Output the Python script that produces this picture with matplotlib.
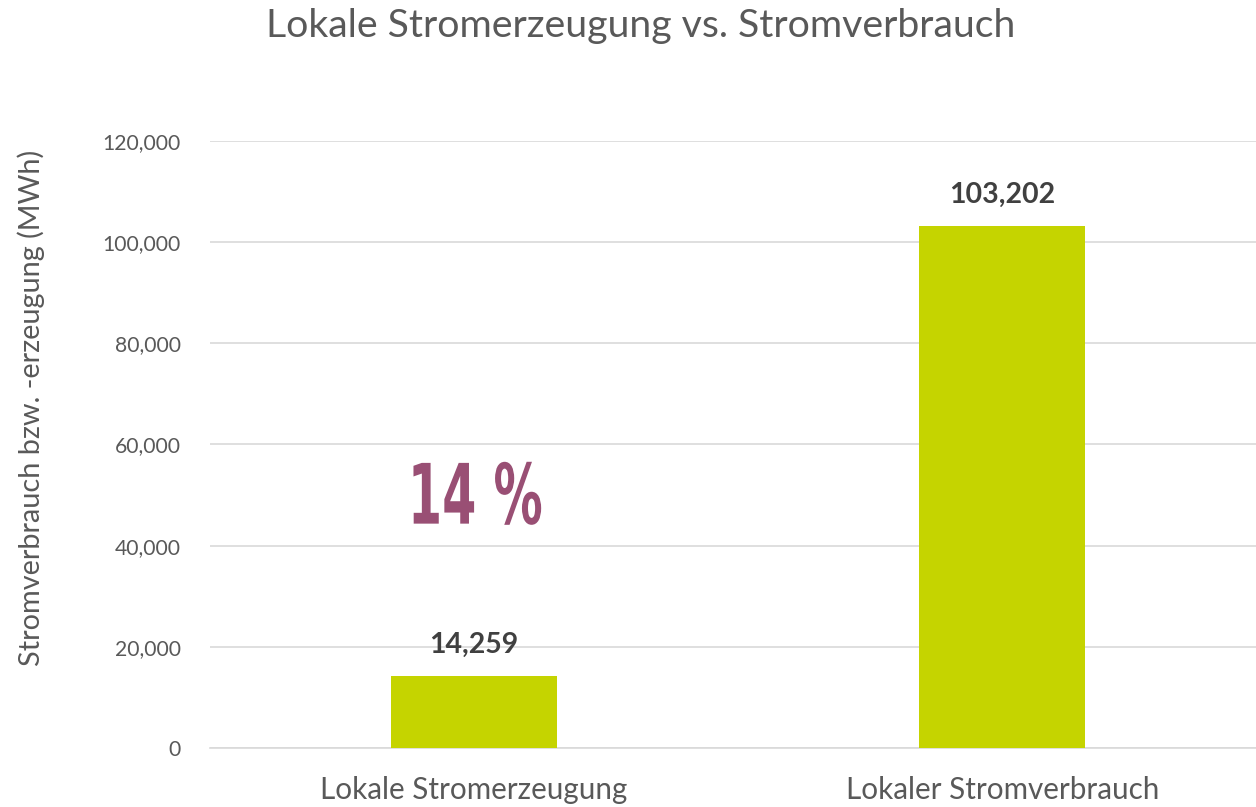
import matplotlib.pyplot as plt
from matplotlib.ticker import FuncFormatter
from matplotlib import patheffects
from matplotlib.transforms import Affine2D

categories = ["Lokale Stromerzeugung", "Lokaler Stromverbrauch"]
values = [14259, 103202]
share_label = "14 %"

grey = "#595959"
bar_color = "#c5d400"


class Squeeze(patheffects.AbstractPathEffect):
    """Narrow the glyphs horizontally around their centre (condensed look)."""

    def __init__(self, sx=0.65):
        super().__init__()
        self.sx = sx

    def draw_path(self, renderer, gc, tpath, affine, rgbFace=None):
        bb = tpath.get_extents(affine)
        cx = (bb.x0 + bb.x1) / 2
        squeeze = Affine2D().translate(-cx, 0).scale(self.sx, 1).translate(cx, 0)
        renderer.draw_path(gc, tpath, affine + squeeze, rgbFace)


plt.rcParams['font.family'] = ['Lato', 'DejaVu Sans']

fig = plt.figure(figsize=(12.56, 8.07), dpi=100)
ax = fig.add_axes([0.167, 0.0731, 0.833, 0.7522])

x = list(range(len(categories)))
bars = ax.bar(x, values, width=0.314, color=bar_color, zorder=3)

for xi, v in zip(x, values):
    ax.annotate(f"{v:,}", (xi, v), xytext=(0, 13), textcoords="offset points",
                ha="center", va="bottom", fontsize=20.5, fontweight="bold", color="#404040")

ax.text(0.0, 49000, share_label, ha="center", va="center", fontsize=60,
        fontweight="bold", family="DejaVu Sans", color="#994f74",
        path_effects=[Squeeze(0.59)])

ax.set_xlim(-0.5, 1.48)
ax.set_ylim(0, 120000)
ax.set_yticks(range(0, 120001, 20000))
ax.yaxis.set_major_formatter(FuncFormatter(lambda v, p: f"{int(v):,}"))
ax.grid(axis="y", color="#d9d9d9", linewidth=1.2, zorder=0)
for s in ["top", "right", "left"]:
    ax.spines[s].set_visible(False)
ax.spines["bottom"].set_color("#d9d9d9")
ax.spines["bottom"].set_linewidth(1.2)
ax.tick_params(axis="both", length=0, colors=grey)
ax.tick_params(axis="y", labelsize=15.2, pad=21)
ax.set_xticks(x)
ax.set_xticklabels(categories, fontsize=21.3)
ax.tick_params(axis="x", pad=20)

ax.set_ylabel("Stromverbrauch bzw. -erzeugung (MWh)", fontsize=20.8, color=grey)
ax.yaxis.set_label_coords(-0.157, 0.56)
fig.suptitle("Lokale Stromerzeugung vs. Stromverbrauch", fontsize=28.3, color=grey,
             x=0.51, y=0.99, va="top")

fig.savefig("out.png", dpi=100)
